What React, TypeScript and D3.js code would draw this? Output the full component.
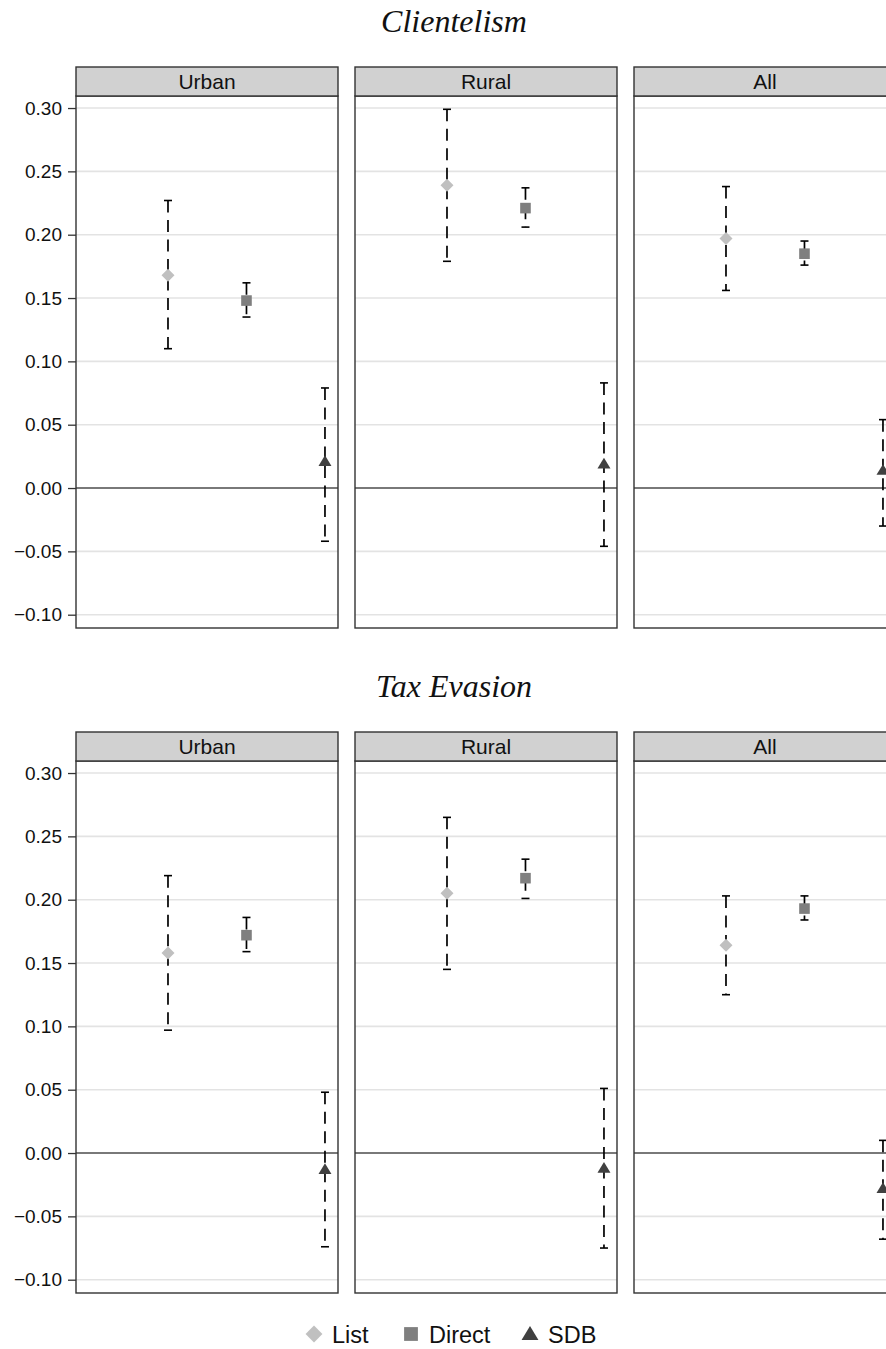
import React, { useEffect, useRef } from 'react';
import * as d3 from 'd3';

const W = 886;
const H = 1349;

const PANELS = ['Urban', 'Rural', 'All'];
const METHODS = ['List', 'Direct', 'SDB'];
const FIGURES = ['Clientelism', 'Tax Evasion'];
const Y_TICKS = [-0.1, -0.05, 0, 0.05, 0.1, 0.15, 0.2, 0.25, 0.3];

// estimates, [panel][method]
const CLIENT_EST = [[0.168, 0.148, 0.021], [0.239, 0.221, 0.019], [0.197, 0.185, 0.014]];
const CLIENT_LO = [[0.110, 0.135, -0.042], [0.179, 0.206, -0.046], [0.156, 0.176, -0.030]];
const CLIENT_HI = [[0.227, 0.162, 0.079], [0.299, 0.237, 0.083], [0.238, 0.195, 0.054]];

const TAX_EST = [[0.158, 0.172, -0.013], [0.205, 0.217, -0.012], [0.164, 0.193, -0.028]];
const TAX_LO = [[0.097, 0.159, -0.074], [0.145, 0.201, -0.075], [0.125, 0.184, -0.068]];
const TAX_HI = [[0.219, 0.186, 0.048], [0.265, 0.232, 0.051], [0.203, 0.203, 0.010]];

const COLORS: Record<string, string> = { List: '#c0c0c0', Direct: '#7f7f7f', SDB: '#404040' };
const SANS = '"Liberation Sans", Arial, Helvetica, sans-serif';
const SERIF = '"Liberation Serif", "DejaVu Serif", serif';

const PANEL_X0 = 76;
const PANEL_W = 262;
const PANEL_GAP = 17;
const STRIP_H = 29;
const PLOT_H = 532;
const FIG_OFFSET = 665;

function drawMarker(g: d3.Selection<SVGGElement, unknown, null, undefined>, method: string, x: number, y: number, scale = 1) {
  const c = COLORS[method];
  if (method === 'List') {
    const r = 6.5 * scale;
    g.append('path').attr('d', `M${x},${y - r}L${x + r},${y}L${x},${y + r}L${x - r},${y}Z`).attr('fill', c);
  } else if (method === 'Direct') {
    const s = 5.3 * scale;
    g.append('rect').attr('x', x - s).attr('y', y - s).attr('width', 2 * s).attr('height', 2 * s).attr('fill', c);
  } else {
    const s = 6.5 * scale;
    g.append('path').attr('d', `M${x},${y - s * 0.95}L${x + s},${y + s * 0.7}L${x - s},${y + s * 0.7}Z`).attr('fill', c);
  }
}

const App: React.FC = () => {
  const svgRef = useRef<SVGSVGElement>(null);

  useEffect(() => {
    const svg = d3.select(svgRef.current);
    svg.selectAll('*').remove();
    svg.append('rect').attr('width', W).attr('height', H).attr('fill', '#fff');

    const data = [
      { est: CLIENT_EST, lo: CLIENT_LO, hi: CLIENT_HI },
      { est: TAX_EST, lo: TAX_LO, hi: TAX_HI },
    ];

    FIGURES.forEach((title, fi) => {
      const top = 67 + fi * FIG_OFFSET;
      const plotTop = top + STRIP_H;
      const fig = svg.append('g');

      fig.append('text')
        .attr('x', 454).attr('y', top - 35)
        .attr('text-anchor', 'middle')
        .attr('font-family', SERIF).attr('font-style', 'italic').attr('font-size', 32)
        .attr('fill', '#111')
        .text(title);

      const y = d3.scaleLinear().domain([-0.1105, 0.3095]).range([plotTop + PLOT_H, plotTop]);
      const fmt = d3.format('.2f');

      // y axis on the first panel
      const axisG = fig.append('g').attr('transform', `translate(${PANEL_X0},0)`)
        .call(d3.axisLeft(y).tickValues(Y_TICKS).tickSize(8).tickPadding(6)
          .tickFormat(d => fmt(+d).replace('-', '\u2212')));
      axisG.select('.domain').remove();
      axisG.selectAll('.tick line').attr('stroke', '#333').attr('stroke-width', 1.3);
      axisG.selectAll('.tick text').attr('fill', '#111').attr('font-size', 19).attr('font-family', SANS);

      PANELS.forEach((panel, pi) => {
        const x0 = PANEL_X0 + pi * (PANEL_W + PANEL_GAP);
        const x = d3.scaleLinear().domain([-0.172, 3.166]).range([x0, x0 + PANEL_W]);
        const pg = fig.append('g');

        // grid
        Y_TICKS.forEach(t => {
          pg.append('line')
            .attr('x1', x0).attr('x2', x0 + PANEL_W)
            .attr('y1', y(t)).attr('y2', y(t))
            .attr('stroke', t === 0 ? '#4d4d4d' : '#e3e3e3')
            .attr('stroke-width', t === 0 ? 1.5 : 1.6);
        });

        METHODS.forEach((m, mi) => {
          const cx = x(mi + 1);
          const est = data[fi].est[pi][mi];
          const lo = data[fi].lo[pi][mi];
          const hi = data[fi].hi[pi][mi];
          pg.append('line')
            .attr('x1', cx).attr('x2', cx)
            .attr('y1', y(hi)).attr('y2', y(lo))
            .attr('stroke', '#000').attr('stroke-width', 1.7)
            .attr('stroke-dasharray', '12,7.5');
          [hi, lo].forEach(v => {
            pg.append('line')
              .attr('x1', cx - 4).attr('x2', cx + 4)
              .attr('y1', y(v)).attr('y2', y(v))
              .attr('stroke', '#000').attr('stroke-width', 1.6);
          });
          drawMarker(pg, m, cx, y(est));
        });

        // border
        pg.append('rect')
          .attr('x', x0).attr('y', plotTop).attr('width', PANEL_W).attr('height', PLOT_H)
          .attr('fill', 'none').attr('stroke', '#333').attr('stroke-width', 1.4);

        // strip
        pg.append('rect')
          .attr('x', x0).attr('y', top).attr('width', PANEL_W).attr('height', STRIP_H)
          .attr('fill', '#d1d1d1').attr('stroke', '#333').attr('stroke-width', 1.4);
        pg.append('text')
          .attr('x', x0 + PANEL_W / 2).attr('y', top + STRIP_H / 2 + 7)
          .attr('text-anchor', 'middle')
          .attr('font-family', SANS).attr('font-size', 21).attr('fill', '#111')
          .text(panel);
      });
    });

    // legend
    const legendX = [314, 411, 530];
    const lg = svg.append('g');
    METHODS.forEach((m, i) => {
      drawMarker(lg, m, legendX[i], 1334, 1.3);
      lg.append('text')
        .attr('x', legendX[i] + 18).attr('y', 1343)
        .attr('font-family', SANS).attr('font-size', 23.5).attr('fill', '#111')
        .text(m);
    });
  }, []);

  return (
    <svg
      ref={svgRef}
      width={W}
      height={H}
      style={{ position: 'absolute', left: 0, top: 0, display: 'block' }}
    />
  );
};

export default App;
